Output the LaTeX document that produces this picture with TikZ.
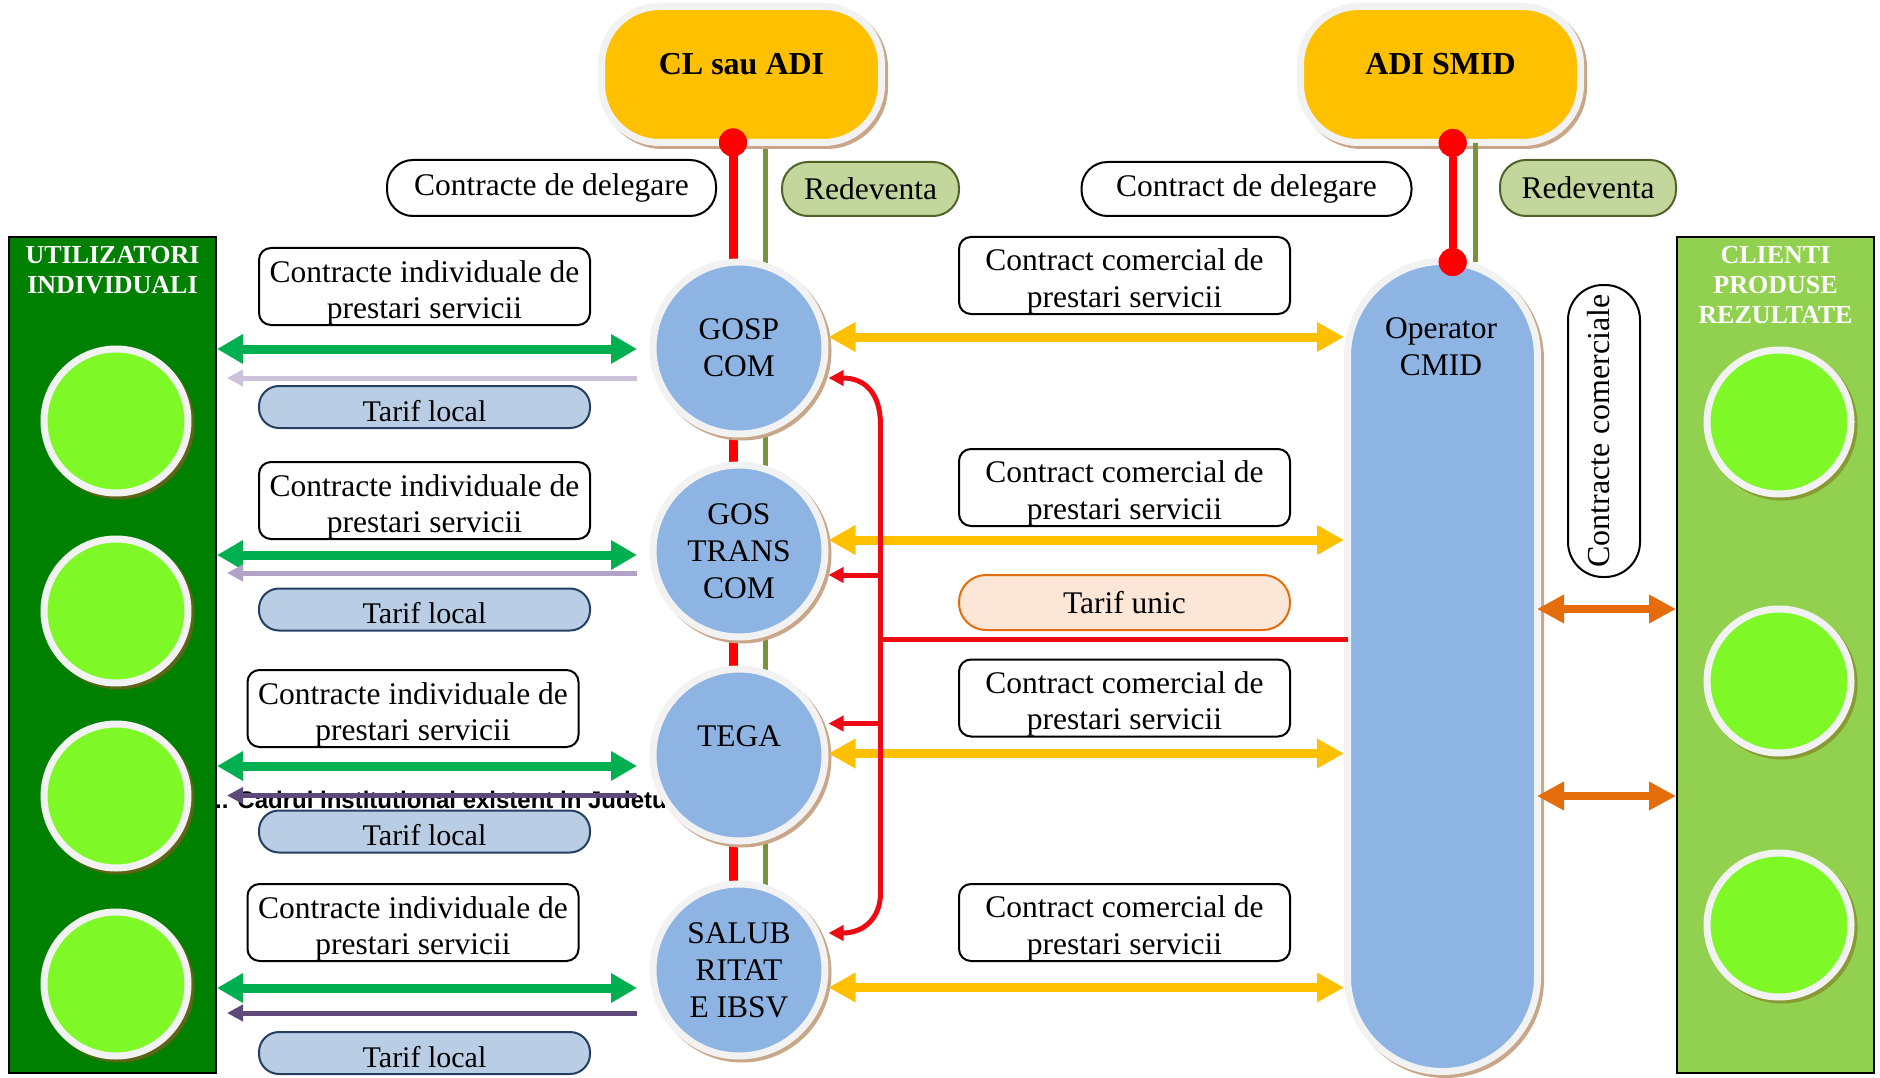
\documentclass[tikz,border=0pt]{standalone}
\usepackage{fontspec}
\setmainfont{Liberation Serif}
\newfontfamily\arialfont{Liberation Sans}
\usetikzlibrary{arrows.meta,calc}
\newcommand\fsz[2]{\fontsize{#1}{#2}\selectfont}
\definecolor{orangepill}{HTML}{FFC000}
\definecolor{bluec}{HTML}{8EB4E3}
\definecolor{ringc}{HTML}{F2F2F2}
\definecolor{shadowc}{HTML}{C9A688}
\definecolor{shadowdk}{HTML}{5C6418}
\definecolor{shadowlt}{HTML}{8A9A32}
\definecolor{dkgreen}{HTML}{008000}
\definecolor{ltgreen}{HTML}{92D050}
\definecolor{limec}{HTML}{7FF828}
\definecolor{garr}{HTML}{00B050}
\definecolor{yarr}{HTML}{FFC000}
\definecolor{oarr}{HTML}{E46C0A}
\definecolor{tlfill}{HTML}{B9CDE5}
\definecolor{tlborder}{HTML}{243F60}
\definecolor{tufill}{HTML}{FCE6D8}
\definecolor{tuborder}{HTML}{E46C0A}
\definecolor{rdfill}{HTML}{C3D69B}
\definecolor{rdborder}{HTML}{4F6228}
\definecolor{olivec}{HTML}{77933C}
\definecolor{lavone}{HTML}{CCC1DA}
\definecolor{lavtwo}{HTML}{B3A2C7}
\definecolor{purp}{HTML}{5F497A}
\definecolor{redc}{HTML}{FF0000}
\definecolor{redarr}{HTML}{EE0A14}
\pgfdeclarelayer{bg}
\pgfsetlayers{bg,main}
\begin{document}
\begin{tikzpicture}[x=1pt,y=-1pt,
 ringed/.style={draw=ringc, line width=7pt, preaction={draw=#1, fill=#1, line width=7pt, transform canvas={shift={(3pt,-3pt)}}}},
 ringed/.default=shadowc,
 midcirc/.style={circle, minimum size=172pt, inner sep=0pt, fill=bluec, ringed, align=center, font=\fsz{31.5}{37}},
 orpill/.style={rectangle, rounded corners=58pt, minimum width=280pt, minimum height=136pt, fill=orangepill, ringed, font=\bfseries\fsz{32}{36}, text height=21.7pt, text depth=21pt, inner sep=0pt},
 oppill/.style={rectangle, rounded corners=94.9pt, minimum width=190pt, minimum height=810pt, fill=bluec, ringed, inner sep=0pt},
 gcirc/.style={circle, minimum size=144pt, inner sep=0pt, fill=limec, ringed=#1},
 panel/.style={rectangle, draw=black, line width=2pt, inner sep=0pt, minimum height=836pt},
 ptitle/.style={align=center, text=white, font=\bfseries\fsz{26}{30}, inner sep=0pt},
 wpill/.style={rectangle, draw=black, line width=2pt, fill=white, rounded corners=26pt, minimum height=56pt, inner sep=2pt, font=\fsz{31.5}{36}},
 gpill/.style={rectangle, draw=rdborder, line width=2pt, fill=rdfill, rounded corners=26pt, minimum width=177pt, minimum height=54pt, inner sep=2pt, font=\fsz{31.5}{36}},
 tlpill/.style={rectangle, draw=tlborder, line width=2pt, fill=tlfill, rounded corners=20pt, minimum width=331pt, minimum height=42pt, inner sep=2pt, font=\fsz{30}{34}, text height=28.5pt, text depth=0pt},
 tupill/.style={rectangle, draw=tuborder, line width=2pt, fill=tufill, rounded corners=27pt, minimum width=331pt, minimum height=55pt, inner sep=2pt, font=\fsz{31.5}{36}},
 cbox/.style={rectangle, draw=black, line width=2pt, fill=white, rounded corners=12pt, minimum width=331pt, minimum height=77pt, inner sep=0pt},
 cboxtext/.style={align=center, inner sep=0pt, font=\fsz{31.5}{36.5}},
 vpill/.style={rectangle, draw=black, line width=2pt, fill=white, rounded corners=35pt, minimum width=292pt, minimum height=72pt, inner sep=0pt, font=\fsz{32}{36}, text height=21pt, text depth=10pt, rotate=90},
 reddot/.style={circle, fill=redc, minimum size=28pt, inner sep=0pt},
 garrow/.style={draw=garr, line width=9pt, {Triangle[length=26pt,width=28pt]}-{Triangle[length=26pt,width=28pt]}},
 yarrow/.style={draw=yarr, line width=9pt, {Triangle[length=27pt,width=28pt]}-{Triangle[length=27pt,width=28pt]}},
 oarrow/.style={draw=oarr, line width=8pt, {Triangle[length=27pt,width=27pt]}-{Triangle[length=27pt,width=27pt]}},
 parrow/.style={draw=#1, line width=5pt, -{Triangle[length=16pt,width=16pt]}},
 redline/.style={draw=redarr, line width=5pt},
 redarrow/.style={redline, -{Triangle[length=15pt,width=15pt]}},
]
\useasboundingbox (0,0) rectangle (1880,1078);

% side panels
\node[panel, fill=dkgreen, minimum width=207pt] (uleft) at (112.5,655) {};
\node[panel, fill=ltgreen, minimum width=197pt] (cright) at (1775.5,655) {};
\node[ptitle] (ttl1) at (112.5,269.7) {UTILIZATORI\\INDIVIDUALI};
\node[ptitle] (ttl2) at (1775.5,284.7) {CLIENTI\\PRODUSE\\REZULTATE};
\node[gcirc=shadowdk] (u1) at (116,421) {};
\node[gcirc=shadowdk] (u2) at (116,611) {};
\node[gcirc=shadowdk] (u3) at (116,796) {};
\node[gcirc=shadowdk] (u4) at (116,984) {};
\node[gcirc=shadowlt] (c1) at (1779,422) {};
\node[gcirc=shadowlt] (c2) at (1779,681) {};
\node[gcirc=shadowlt] (c3) at (1779,925) {};

% top authorities
\node[orpill] (cl) at (741.5,74.5) {CL sau ADI};
\node[orpill] (adi) at (1440.5,74.5) {ADI SMID};

% operators
\node[midcirc] (gosp) at (739,348) {GOSP\\COM};
\node[midcirc] (gtrans) at (739,551) {GOS\\TRANS\\COM};
\node[midcirc] (tega) at (739,755) {TEGA\\\mbox{}};
\node[midcirc] (salub) at (739,970) {SALUB\\RITAT\\E IBSV};
\node[oppill] (op) at (1442.5,666.5) {};
\node[cboxtext] (optext) at (1441,346.5) {Operator\\CMID};

% dots
\node[reddot] (d1) at (733,142.5) {};
\node[reddot] (d2) at (1452.7,143) {};
\node[reddot] (d3) at (1452.7,262) {};

% links behind
\begin{pgfonlayer}{bg}
\coordinate (oltop) at (765.5,147);
\draw[draw=redc, line width=9pt] (d1.center) -- (d1.center |- salub.center);
\draw[draw=olivec, line width=5pt] (oltop) -- (oltop |- salub.center);
\node[anchor=base west, inner sep=0pt, font=\arialfont\bfseries\fsz{24}{28}] (cadrul) at (215,808) {.. Cadrul institutional existent in Judetu};
\end{pgfonlayer}

% right-hand links
\coordinate (ortop) at (1475.5,143);
\coordinate (orbot) at (1475.5,262);
\draw[draw=olivec, line width=5pt] (ortop) -- (orbot);
\draw[draw=redc, line width=8pt] (d2) -- (d3);
\node[reddot] at (d1) {};
\node[reddot] at (d2) {};
\node[reddot] at (d3) {};

% labels top
\node[wpill, minimum width=329pt] (cdel1) at (551.5,188) {Contracte de delegare};
\node[gpill] (red1) at (870.5,189) {Redeventa};
\node[wpill, minimum width=330pt, minimum height=54pt] (cdel2) at (1246.5,189) {Contract de delegare};
\node[gpill, minimum width=176pt, minimum height=56pt] (red2) at (1588,188) {Redeventa};

% individual contracts
\node[cbox] (ci1) at (424.5,286.5) {};
\node[cboxtext] at ($(ci1.center)+(0,6.5)$) {Contracte individuale de\\prestari servicii};
\node[cbox] (ci2) at (424.5,500.5) {};
\node[cboxtext] at ($(ci2.center)+(0,6.5)$) {Contracte individuale de\\prestari servicii};
\node[cbox] (ci3) at (413,708.5) {};
\node[cboxtext] at ($(ci3.center)+(0,6.5)$) {Contracte individuale de\\prestari servicii};
\node[cbox] (ci4) at (413,922.5) {};
\node[cboxtext] at ($(ci4.center)+(0,6.5)$) {Contracte individuale de\\prestari servicii};

\node[tlpill] (tl1) at (424.5,407) {Tarif local};
\node[tlpill] (tl2) at (424.5,609.5) {Tarif local};
\node[tlpill] (tl3) at (424.5,831.5) {Tarif local};
\node[tlpill] (tl4) at (424.5,1053) {Tarif local};

% commercial contracts
\node[cbox] (cc1) at (1124.5,275.5) {};
\node[cboxtext] at ($(cc1.center)+(0,6)$) {Contract comercial de\\prestari servicii};
\node[cbox] (cc2) at (1124.5,487.5) {};
\node[cboxtext] at ($(cc2.center)+(0,6)$) {Contract comercial de\\prestari servicii};
\node[cbox] (cc3) at (1124.5,698) {};
\node[cboxtext] at ($(cc3.center)+(0,6)$) {Contract comercial de\\prestari servicii};
\node[cbox] (cc4) at (1124.5,922.5) {};
\node[cboxtext] at ($(cc4.center)+(0,6)$) {Contract comercial de\\prestari servicii};
\node[tupill] (tu) at (1124.5,602.5) {Tarif unic};
\node[vpill] (ccv) at (1604,431) {Contracte comerciale};

% green arrows
\draw[garrow, shorten >=12.5pt] (uleft.east |- 0,349) -- (gosp.west |- 0,349);
\draw[garrow, shorten >=12.5pt] (uleft.east |- 0,555) -- (gtrans.west |- 0,555);
\draw[garrow, shorten >=12.5pt] (uleft.east |- 0,766) -- (tega.west |- 0,766);
\draw[garrow, shorten >=12.5pt] (uleft.east |- 0,988) -- (salub.west |- 0,988);
% tariff arrows
\draw[parrow=lavone, shorten <=12.5pt, shorten >=10pt] (gosp.west |- 0,378) -- (uleft.east |- 0,378);
\draw[parrow=lavtwo, shorten <=12.5pt, shorten >=10pt] (gtrans.west |- 0,573) -- (uleft.east |- 0,573);
\draw[parrow=purp, shorten <=12.5pt, shorten >=10pt] (tega.west |- 0,795.5) -- (uleft.east |- 0,795.5);
\draw[parrow=purp, shorten <=12.5pt, shorten >=10pt] (salub.west |- 0,1013) -- (uleft.east |- 0,1013);
% yellow arrows
\draw[yarrow] (gosp.east |- 0,337) -- (op.west |- 0,337);
\draw[yarrow] (gtrans.east |- 0,540) -- (op.west |- 0,540);
\draw[yarrow] (tega.east |- 0,753.5) -- (op.west |- 0,753.5);
\draw[yarrow] (salub.east |- 0,987.5) -- (op.west |- 0,987.5);
% orange arrows
\draw[oarrow, shorten <=-4pt] (op.east |- 0,609) -- (cright.west |- 0,609);
\draw[oarrow, shorten <=-4pt] (op.east |- 0,796) -- (cright.west |- 0,796);

% red tariff distribution
\coordinate (rtop) at (880.5,425);
\coordinate (rbot) at (880.5,893);
\draw[redline] (rtop) -- (rbot);
\draw[redarrow] (rtop) .. controls (880.5,392) and (864,378) .. (gosp.east |- 0,378);
\draw[redarrow] (rbot) .. controls (880.5,918) and (864,933) .. (salub.east |- 0,933);
\draw[redarrow] (rtop |- 0,575) -- (gtrans.east |- 0,575);
\draw[redarrow] (rtop |- 0,723.5) -- (tega.east |- 0,723.5);
\draw[redline, shorten >=-3.5pt] (rtop |- 0,639) -- (op.west |- 0,639);
\end{tikzpicture}
\end{document}
